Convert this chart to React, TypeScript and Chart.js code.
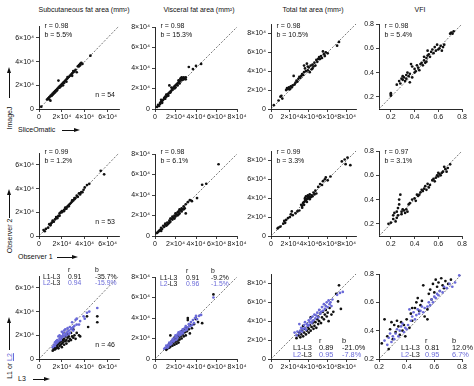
import React, { useEffect, useRef } from "react";
import { Chart, registerables } from "chart.js";
Chart.register(...registerables);

const FONT = '"Liberation Sans", Arial, Helvetica, sans-serif';
const BLUE = "#6a6ad8";
const INK = "#111";

// ---------- column titles ----------
const titles = ["Subcutaneous fat area (mm²)", "Visceral fat area (mm²)", "Total fat area (mm²)", "VFI"];

// ---------- tick labels (area axes in units of 10^4 mm²) ----------
const ticksSubcut = [0, 2, 4, 6];
const ticksVisc = [0, 2, 4, 6, 8];
const ticksTotal = [0, 2, 4, 6, 8];
const ticksVFI = [0.2, 0.4, 0.6, 0.8];

// ---------- Row 1: ImageJ (y) vs SliceOmatic (x) ----------
const subcut_IJ: [number, number][] = [
  [0.2, 0.2], [0.7, 0.8], [0.8, 0.9], [0.9, 0.8], [1.0, 0.7], [1.0, 1.1], [1.1, 1.1], [1.2, 1.3], [1.2, 1.2], [1.3, 1.4],
  [1.4, 1.5], [1.4, 1.4], [1.5, 1.6], [1.5, 1.5], [1.6, 1.7], [1.7, 1.8], [1.7, 2.4], [1.8, 1.9], [1.9, 2.0], [1.9, 1.9],
  [2.0, 2.1], [2.0, 2.0], [2.1, 2.2], [2.2, 2.2], [2.3, 2.4], [2.4, 2.5], [2.5, 2.6], [2.5, 2.7], [2.6, 2.7], [2.7, 2.8],
  [2.8, 2.9], [2.9, 3.0], [3.0, 3.1], [3.0, 3.2], [3.1, 3.2], [3.2, 3.3], [3.3, 3.1], [3.4, 3.6], [3.5, 3.7], [3.5, 3.6],
  [3.6, 3.8], [3.7, 3.9], [3.8, 3.8], [1.6, 1.6], [2.4, 2.3], [1.3, 1.3], [1.1, 1.2], [2.9, 2.8], [3.6, 3.7], [4.5, 4.5],
  [1.8, 1.8], [2.1, 2.0], [0.9, 1.0], [2.2, 2.3],
];
const visc_IJ: [number, number][] = [
  [0.2, 0.2], [0.3, 0.4], [0.4, 0.3], [0.5, 0.6], [0.5, 0.5], [0.6, 0.7], [0.7, 0.8], [0.7, 0.6], [0.8, 0.9], [0.9, 1.0],
  [0.9, 1.1], [1.0, 1.2], [1.0, 1.0], [1.1, 1.2], [1.2, 1.3], [1.2, 1.4], [1.3, 1.5], [1.3, 1.3], [1.4, 1.6], [1.4, 2.3],
  [1.5, 1.7], [1.5, 1.6], [1.6, 1.8], [1.7, 2.0], [1.7, 1.9], [1.8, 2.1], [1.9, 2.0], [1.9, 2.2], [2.0, 2.3], [2.0, 2.1],
  [2.1, 2.4], [2.2, 2.3], [2.2, 2.5], [2.3, 2.6], [2.3, 2.8], [2.4, 2.7], [2.5, 2.9], [2.5, 3.0], [2.6, 2.8], [2.6, 3.1],
  [2.7, 3.0], [2.8, 2.9], [2.8, 3.1], [2.9, 3.0], [3.0, 3.1], [3.0, 2.9], [1.1, 1.4], [0.6, 0.9], [1.6, 2.1], [3.3, 4.1],
  [3.7, 3.9], [4.0, 4.2], [4.5, 4.4], [2.4, 2.5],
];
const total_IJ: [number, number][] = [
  [0.3, 0.4], [0.8, 0.9], [1.0, 1.3], [1.1, 1.4], [1.2, 1.1], [1.6, 2.0], [1.7, 2.2], [1.8, 2.1], [1.9, 2.3], [2.0, 2.1],
  [2.1, 2.4], [2.2, 2.3], [2.3, 2.5], [2.4, 3.5], [2.5, 2.6], [2.6, 2.8], [2.7, 3.0], [2.8, 2.9], [2.9, 3.2], [3.0, 3.4],
  [3.1, 3.3], [3.2, 3.5], [3.3, 3.7], [3.4, 3.6], [3.5, 3.9], [3.5, 4.6], [3.6, 4.3], [3.7, 4.0], [3.8, 4.8], [3.9, 4.1],
  [4.0, 4.4], [4.1, 3.9], [4.2, 4.6], [4.3, 4.2], [4.4, 4.7], [4.5, 4.5], [4.6, 4.9], [4.7, 4.6], [4.8, 5.2], [4.9, 5.0],
  [5.0, 5.3], [5.1, 5.5], [5.2, 5.3], [5.3, 5.6], [5.4, 5.4], [5.5, 6.1], [5.6, 5.8], [5.7, 5.6], [5.8, 6.0], [6.0, 5.9],
  [4.4, 4.3], [3.9, 4.5], [7.0, 6.7], [7.2, 7.1],
];
const vfi_IJ: [number, number][] = [
  [0.20, 0.21], [0.20, 0.23], [0.20, 0.22], [0.25, 0.30], [0.27, 0.33], [0.28, 0.31], [0.29, 0.35], [0.30, 0.34], [0.30, 0.37], [0.31, 0.36],
  [0.32, 0.33], [0.33, 0.38], [0.33, 0.35], [0.34, 0.40], [0.35, 0.37], [0.36, 0.32], [0.36, 0.39], [0.37, 0.47], [0.38, 0.45], [0.38, 0.36],
  [0.40, 0.43], [0.41, 0.41], [0.42, 0.46], [0.43, 0.44], [0.44, 0.42], [0.45, 0.47], [0.46, 0.48], [0.47, 0.46], [0.48, 0.50], [0.49, 0.48],
  [0.50, 0.52], [0.50, 0.49], [0.51, 0.58], [0.51, 0.54], [0.52, 0.55], [0.53, 0.53], [0.54, 0.57], [0.55, 0.59], [0.56, 0.56], [0.57, 0.61],
  [0.58, 0.58], [0.59, 0.63], [0.60, 0.59], [0.61, 0.60], [0.62, 0.62], [0.63, 0.58], [0.64, 0.61], [0.65, 0.63], [0.70, 0.72], [0.71, 0.73],
  [0.72, 0.72], [0.73, 0.74], [0.48, 0.53], [0.40, 0.40],
];

// ---------- Row 2: Observer 2 (y) vs Observer 1 (x) ----------
const subcut_Obs: [number, number][] = [
  [0.4, 0.5], [0.6, 0.6], [0.8, 0.7], [0.9, 1.0], [1.0, 0.9], [1.1, 1.1], [1.2, 1.2], [1.3, 1.2], [1.4, 1.4], [1.5, 1.5],
  [1.5, 1.6], [1.6, 1.6], [1.7, 1.7], [1.8, 1.7], [1.9, 2.0], [2.0, 2.0], [2.1, 2.1], [2.2, 2.2], [2.3, 2.3], [2.3, 2.4],
  [2.4, 2.4], [2.5, 2.5], [2.6, 2.6], [2.7, 2.7], [2.8, 2.8], [2.9, 3.0], [3.0, 3.0], [3.1, 3.1], [3.2, 3.2], [3.3, 3.4],
  [3.4, 3.3], [3.5, 3.6], [3.6, 3.6], [3.7, 3.7], [3.8, 3.7], [3.9, 3.9], [4.0, 4.1], [4.2, 4.3], [4.4, 4.4], [1.2, 1.3],
  [1.6, 1.5], [2.0, 2.1], [2.4, 2.3], [2.9, 2.9], [3.1, 3.2], [1.0, 1.0], [1.8, 1.9], [2.6, 2.5], [0.5, 0.4], [3.6, 3.5],
  [2.2, 2.1], [5.4, 5.5], [5.7, 5.2],
];
const visc_Obs: [number, number][] = [
  [0.2, 0.3], [0.3, 0.4], [0.4, 0.5], [0.5, 0.6], [0.6, 0.8], [0.7, 0.7], [0.8, 1.0], [0.9, 0.9], [1.0, 1.1], [1.0, 1.2],
  [1.1, 1.0], [1.2, 1.3], [1.3, 1.2], [1.4, 1.5], [1.5, 1.4], [1.6, 1.7], [1.7, 1.6], [1.7, 1.9], [1.8, 1.8], [1.9, 2.0],
  [2.0, 1.9], [2.0, 2.2], [2.1, 2.1], [2.2, 2.3], [2.2, 2.0], [2.3, 2.4], [2.4, 2.2], [2.4, 2.6], [2.5, 2.5], [2.6, 2.4],
  [2.6, 2.7], [2.7, 2.6], [2.8, 2.9], [2.9, 2.7], [3.0, 2.2], [3.0, 3.1], [3.2, 3.3], [3.4, 3.5], [3.6, 3.4], [4.1, 3.7],
  [4.6, 5.0], [5.0, 5.1], [6.2, 7.0], [1.2, 1.1], [1.5, 1.7], [1.9, 1.7], [2.3, 2.1], [0.6, 0.5], [2.8, 2.6], [1.4, 1.3],
];
const total_Obs: [number, number][] = [
  [0.7, 0.8], [0.8, 0.9], [1.0, 1.0], [1.3, 1.3], [1.4, 1.6], [1.5, 1.4], [1.8, 1.9], [2.0, 2.0], [2.1, 2.3], [2.3, 2.2],
  [2.6, 2.4], [2.8, 2.6], [3.0, 2.7], [3.2, 3.3], [3.3, 3.2], [3.4, 3.5], [3.5, 3.6], [3.5, 3.3], [3.6, 3.8], [3.6, 4.0],
  [3.7, 3.7], [3.7, 4.2], [3.8, 3.9], [3.8, 3.6], [3.9, 4.1], [3.9, 4.3], [4.0, 4.0], [4.0, 4.2], [4.1, 3.9], [4.1, 4.4],
  [4.2, 4.1], [4.3, 4.3], [4.4, 4.2], [4.5, 4.6], [4.6, 4.4], [4.7, 4.8], [4.8, 4.5], [5.0, 5.2], [5.2, 5.5], [5.4, 5.4],
  [5.5, 5.8], [5.7, 6.0], [5.8, 6.2], [6.0, 5.9], [6.3, 6.3], [7.5, 7.9], [7.8, 8.1], [8.1, 8.3], [7.9, 7.6], [8.4, 7.5],
  [2.2, 2.6], [1.6, 1.7], [3.3, 3.0],
];
const vfi_Obs: [number, number][] = [
  [0.18, 0.20], [0.20, 0.21], [0.22, 0.24], [0.22, 0.27], [0.23, 0.29], [0.24, 0.22], [0.25, 0.25], [0.25, 0.30], [0.26, 0.27], [0.26, 0.33],
  [0.27, 0.36], [0.27, 0.40], [0.28, 0.44], [0.29, 0.30], [0.30, 0.32], [0.31, 0.31], [0.32, 0.29], [0.33, 0.32], [0.34, 0.30], [0.36, 0.37],
  [0.38, 0.40], [0.40, 0.41], [0.41, 0.39], [0.42, 0.44], [0.43, 0.43], [0.45, 0.46], [0.46, 0.48], [0.47, 0.47], [0.48, 0.49], [0.49, 0.51],
  [0.50, 0.48], [0.51, 0.53], [0.52, 0.50], [0.53, 0.52], [0.55, 0.56], [0.57, 0.55], [0.58, 0.58], [0.59, 0.60], [0.60, 0.59], [0.61, 0.61],
  [0.62, 0.60], [0.63, 0.62], [0.64, 0.63], [0.65, 0.67], [0.66, 0.65], [0.67, 0.63], [0.68, 0.66], [0.70, 0.69], [0.44, 0.44], [0.35, 0.36],
  [0.56, 0.57], [0.29, 0.28], [0.60, 0.62],
];

// ---------- Row 3: L1 (black) or L2 (blue) vs L3 ----------
const subcut_L1: [number, number][] = [
  [1.2, 0.7], [1.3, 0.8], [1.3, 0.9], [1.4, 1.0], [1.4, 0.8], [1.5, 1.1], [1.5, 0.9], [1.6, 1.2], [1.6, 1.0], [1.7, 1.3],
  [1.7, 0.9], [1.8, 1.1], [1.8, 1.4], [1.9, 1.2], [1.9, 1.5], [2.0, 1.3], [2.0, 1.0], [2.1, 1.6], [2.1, 1.4], [2.2, 1.2],
  [2.2, 1.7], [2.3, 1.5], [2.3, 1.9], [2.4, 1.3], [2.4, 1.6], [2.5, 1.8], [2.5, 2.1], [2.6, 1.5], [2.6, 1.9], [2.7, 1.7],
  [2.8, 2.2], [2.8, 1.6], [2.9, 1.9], [3.0, 2.5], [3.0, 1.8], [3.1, 2.0], [3.2, 1.7], [3.3, 2.2], [3.5, 2.0], [3.6, 1.9],
  [2.0, 1.8], [1.6, 1.4], [4.3, 2.7], [4.2, 3.6], [5.1, 3.6], [5.1, 3.1],
];
const subcut_L2: [number, number][] = [
  [1.2, 1.0], [1.3, 1.2], [1.4, 1.4], [1.4, 1.1], [1.5, 1.5], [1.5, 1.3], [1.6, 1.6], [1.6, 1.4], [1.7, 1.9], [1.7, 1.5],
  [1.8, 1.7], [1.8, 2.0], [1.9, 1.6], [1.9, 1.9], [2.0, 2.3], [2.0, 1.8], [2.1, 2.0], [2.1, 2.2], [2.2, 1.9], [2.2, 2.4],
  [2.3, 2.1], [2.3, 2.5], [2.4, 2.2], [2.4, 2.0], [2.5, 2.6], [2.5, 2.3], [2.6, 2.1], [2.6, 2.4], [2.7, 2.7], [2.7, 2.2],
  [2.8, 2.5], [2.9, 3.1], [2.9, 2.6], [3.0, 2.7], [3.0, 2.4], [3.1, 2.8], [3.2, 3.3], [3.3, 2.9], [3.3, 3.4], [3.5, 2.9],
  [3.6, 3.2], [3.9, 3.6], [4.0, 3.4], [4.4, 4.0], [4.2, 3.9], [5.1, 4.3],
];
const visc_L1: [number, number][] = [
  [1.0, 1.0], [1.1, 0.9], [1.2, 1.2], [1.2, 1.0], [1.3, 1.3], [1.4, 1.1], [1.4, 1.5], [1.5, 1.2], [1.5, 2.3], [1.6, 1.4],
  [1.6, 1.7], [1.7, 1.3], [1.8, 1.6], [1.8, 1.9], [1.9, 1.4], [2.0, 1.7], [2.0, 2.0], [2.1, 1.5], [2.2, 1.8], [2.2, 2.2],
  [2.3, 2.1], [2.3, 1.6], [2.4, 2.4], [2.4, 1.9], [2.5, 2.2], [2.6, 2.7], [2.6, 2.0], [2.7, 2.4], [2.8, 2.9], [2.8, 2.2],
  [2.9, 2.6], [3.0, 3.0], [3.0, 2.3], [3.1, 2.7], [3.2, 4.0], [3.2, 3.8], [3.3, 2.9], [3.4, 2.5], [3.5, 3.3], [3.6, 3.0],
  [3.8, 3.4], [4.0, 3.9], [4.2, 3.6], [4.6, 3.5], [1.9, 2.1], [5.7, 6.3],
];
const visc_L2: [number, number][] = [
  [0.9, 1.0], [1.0, 1.1], [1.1, 1.3], [1.2, 1.1], [1.3, 1.4], [1.3, 1.2], [1.4, 1.6], [1.5, 1.4], [1.6, 1.7], [1.6, 1.5],
  [1.7, 1.9], [1.8, 1.7], [1.8, 2.0], [1.9, 1.8], [2.0, 2.1], [2.0, 2.3], [2.1, 1.9], [2.2, 2.4], [2.2, 2.1], [2.3, 2.6],
  [2.4, 2.3], [2.4, 2.5], [2.5, 2.7], [2.5, 2.4], [2.6, 2.6], [2.7, 2.9], [2.7, 2.5], [2.8, 2.7], [2.9, 3.0], [3.0, 2.8],
  [3.0, 3.2], [3.1, 2.9], [3.2, 3.1], [3.3, 3.4], [3.4, 3.2], [3.5, 3.6], [3.6, 3.3], [3.7, 3.8], [3.8, 3.5], [3.9, 4.0],
  [4.0, 4.2], [4.1, 3.9], [4.3, 4.2], [4.5, 4.3], [5.7, 6.0], [2.1, 2.2],
];
const total_L1: [number, number][] = [
  [2.7, 2.2], [2.9, 2.5], [3.0, 2.8], [3.1, 2.3], [3.2, 2.6], [3.3, 3.0], [3.4, 2.4], [3.5, 2.8], [3.6, 3.2], [3.7, 2.6],
  [3.8, 3.0], [3.9, 3.4], [4.0, 2.8], [4.0, 3.2], [4.1, 3.6], [4.2, 3.0], [4.3, 3.4], [4.4, 3.8], [4.5, 3.2], [4.5, 4.0],
  [4.6, 3.5], [4.7, 3.9], [4.8, 3.3], [4.9, 4.2], [5.0, 3.7], [5.0, 4.5], [5.1, 4.0], [5.2, 4.8], [5.3, 3.8], [5.4, 4.4],
  [5.5, 5.0], [5.6, 4.2], [5.7, 4.7], [5.8, 5.2], [5.9, 4.5], [6.0, 4.9], [6.1, 4.0], [6.2, 5.4], [6.4, 4.7], [6.6, 5.0],
  [4.2, 4.4], [3.4, 3.5], [7.2, 7.8], [6.9, 6.9], [7.1, 6.1], [7.4, 5.3],
];
const total_L2: [number, number][] = [
  [2.5, 2.8], [2.7, 2.5], [2.8, 2.9], [3.0, 3.7], [3.0, 2.7], [3.1, 3.0], [3.2, 3.3], [3.3, 2.9], [3.4, 3.2], [3.5, 3.6],
  [3.6, 3.3], [3.7, 3.1], [3.8, 3.7], [3.9, 3.5], [4.0, 4.1], [4.0, 3.6], [4.1, 3.9], [4.2, 4.3], [4.3, 3.8], [4.4, 4.5],
  [4.5, 4.1], [4.6, 4.7], [4.7, 4.3], [4.8, 4.6], [4.9, 4.9], [5.0, 4.4], [5.1, 5.2], [5.2, 4.8], [5.3, 5.0], [5.4, 5.5],
  [5.5, 5.1], [5.6, 5.8], [5.7, 5.3], [5.8, 5.6], [5.9, 6.0], [6.0, 5.5], [6.1, 6.2], [6.2, 5.8], [6.3, 6.0], [6.4, 5.6],
  [6.5, 6.3], [4.4, 4.0], [3.6, 3.9], [7.3, 7.0], [7.6, 7.1], [7.0, 6.8],
];
const vfi_L1: [number, number][] = [
  [0.22, 0.31], [0.24, 0.48], [0.26, 0.36], [0.27, 0.27], [0.28, 0.41], [0.29, 0.46], [0.30, 0.34], [0.31, 0.44], [0.32, 0.39], [0.33, 0.47],
  [0.34, 0.43], [0.35, 0.37], [0.36, 0.46], [0.37, 0.40], [0.38, 0.44], [0.39, 0.36], [0.40, 0.48], [0.42, 0.42], [0.43, 0.52], [0.44, 0.47],
  [0.46, 0.56], [0.47, 0.60], [0.48, 0.63], [0.49, 0.54], [0.50, 0.58], [0.51, 0.61], [0.52, 0.72], [0.53, 0.50], [0.55, 0.55], [0.56, 0.66],
  [0.57, 0.69], [0.58, 0.62], [0.59, 0.73], [0.60, 0.67], [0.61, 0.76], [0.62, 0.71], [0.63, 0.74], [0.64, 0.68], [0.65, 0.77], [0.66, 0.72],
  [0.67, 0.70], [0.68, 0.75], [0.70, 0.73], [0.72, 0.76], [0.55, 0.48], [0.44, 0.56],
];
const vfi_L2: [number, number][] = [
  [0.24, 0.33], [0.26, 0.30], [0.27, 0.35], [0.28, 0.38], [0.29, 0.32], [0.30, 0.36], [0.31, 0.34], [0.32, 0.38], [0.33, 0.41], [0.34, 0.36],
  [0.35, 0.40], [0.36, 0.43], [0.37, 0.45], [0.38, 0.39], [0.39, 0.42], [0.40, 0.41], [0.41, 0.44], [0.42, 0.55], [0.43, 0.47], [0.44, 0.50],
  [0.45, 0.53], [0.46, 0.48], [0.47, 0.51], [0.48, 0.55], [0.49, 0.52], [0.50, 0.54], [0.51, 0.57], [0.52, 0.53], [0.53, 0.56], [0.55, 0.57],
  [0.56, 0.60], [0.57, 0.58], [0.58, 0.62], [0.59, 0.60], [0.60, 0.64], [0.61, 0.63], [0.62, 0.66], [0.63, 0.65], [0.64, 0.68], [0.66, 0.67],
  [0.67, 0.71], [0.69, 0.70], [0.71, 0.73], [0.73, 0.71], [0.75, 0.74], [0.78, 0.79],
];

// ---------- statistics text ----------
const statsIJ = [["0.98", "5.5%"], ["0.98", "15.3%"], ["0.98", "10.5%"], ["0.98", "5.4%"]];
const statsObs = [["0.99", "1.2%"], ["0.98", "6.1%"], ["0.99", "3.3%"], ["0.97", "3.1%"]];
const statsL1 = [["0.91", "-35.7%"], ["0.91", "-9.2%"], ["0.89", "-21.0%"], ["0.81", "12.0%"]];
const statsL2 = [["0.94", "-15.9%"], ["0.96", "-1.5%"], ["0.95", "-7.8%"], ["0.95", "6.7%"]];
const nValues = ["n = 54", "n = 53", "n = 46"];

// ---------- layout (chart areas in page px) ----------
const colLeft = [39, 155, 271, 379];
const colW = [80, 82, 85, 83];
const colH = [83, 82, 85, 85];
const rowBottom = [109, 236, 359];
const titleCenter = [84, 199, 313, 420];
const PAD_T = 14, PAD_R = 14, Y_W = 30, X_H = 16;

type Part = { t: string; color?: string };
type TextItem = { parts: Part[]; x: number; y: number; size: number; fromRight?: boolean; alignRight?: boolean };
type Series = { data: [number, number][]; color: string };
type PanelCfg = {
  key: string; row: number; col: number;
  min: number; max: number; ticks: number[]; fmt: (v: number) => string;
  series: Series[]; texts: TextItem[];
};

const fmtE4 = (v: number) => (v === 0 ? "0" : `${v}×10⁴`);
const fmtVFI = (v: number) => v.toFixed(1);

const colAxis = [
  { min: 0, max: 7, ticks: ticksSubcut, fmt: fmtE4 },
  { min: 0, max: 8, ticks: ticksVisc, fmt: fmtE4 },
  { min: 0, max: 9, ticks: ticksTotal, fmt: fmtE4 },
  { min: 0.1, max: 0.8, ticks: ticksVFI, fmt: fmtVFI },
];

const rowData: Series[][][] = [
  [[{ data: subcut_IJ, color: INK }], [{ data: visc_IJ, color: INK }], [{ data: total_IJ, color: INK }], [{ data: vfi_IJ, color: INK }]],
  [[{ data: subcut_Obs, color: INK }], [{ data: visc_Obs, color: INK }], [{ data: total_Obs, color: INK }], [{ data: vfi_Obs, color: INK }]],
  [
    [{ data: subcut_L1, color: INK }, { data: subcut_L2, color: BLUE }],
    [{ data: visc_L1, color: INK }, { data: visc_L2, color: BLUE }],
    [{ data: total_L1, color: INK }, { data: total_L2, color: BLUE }],
    [{ data: vfi_L1, color: INK }, { data: vfi_L2, color: BLUE }],
  ],
];

// table column offsets for row 3 [label, r, b] and row baselines [header, L1, L2]
const tableX = [[4, 29, 56], [5, 31, 56], [22, 48, 71], [22, 46, 73]];
const tableY = [[-87, -80, -74], [-86, -79, -73], [-16, -9, -2], [-16, -9, -2]];
const tableSize = [6.8, 6.8, 7.4, 7.4];

function buildTexts(row: number, col: number): TextItem[] {
  const out: TextItem[] = [];
  if (row < 2) {
    const st = row === 0 ? statsIJ[col] : statsObs[col];
    const yR = row === 0 ? -81 : -82;
    out.push({ parts: [{ t: `r = ${st[0]}` }], x: 5.5, y: yR, size: 7 });
    out.push({ parts: [{ t: `b = ${st[1]}` }], x: 5.5, y: yR + 8.5, size: 7 });
  } else {
    const [xl, xr, xb] = tableX[col];
    const [yh, y1, y2] = tableY[col];
    const s = tableSize[col];
    out.push({ parts: [{ t: "r" }], x: xr, y: yh, size: s });
    out.push({ parts: [{ t: "b" }], x: xb, y: yh, size: s });
    out.push({ parts: [{ t: "L1-L3" }], x: xl, y: y1, size: s });
    out.push({ parts: [{ t: statsL1[col][0] }], x: xr, y: y1, size: s });
    out.push({ parts: [{ t: statsL1[col][1] }], x: xb, y: y1, size: s });
    out.push({ parts: [{ t: "L2", color: BLUE }, { t: "-L3" }], x: xl, y: y2, size: s });
    out.push({ parts: [{ t: statsL2[col][0], color: BLUE }], x: xr, y: y2, size: s });
    out.push({ parts: [{ t: statsL2[col][1], color: BLUE }], x: xb, y: y2, size: s });
  }
  if (col === 0) {
    out.push({ parts: [{ t: nValues[row] }], x: -4, y: -12, size: 7, fromRight: true, alignRight: true });
  }
  return out;
}

const panels: PanelCfg[] = [];
for (let r = 0; r < 3; r++) {
  for (let c = 0; c < 4; c++) {
    const ax = colAxis[c];
    const min = r === 2 && c === 3 ? 0.2 : ax.min;
    panels.push({
      key: `p${r}${c}`, row: r, col: c, min, max: ax.max, ticks: ax.ticks, fmt: ax.fmt,
      series: rowData[r][c], texts: buildTexts(r, c),
    });
  }
}

function scaleOpts(min: number, max: number, ticks: number[], fmt: (v: number) => string, axis: "x" | "y") {
  return {
    type: "linear" as const,
    min, max,
    afterBuildTicks: (s: any) => { s.ticks = ticks.map((v) => ({ value: v })); },
    afterFit: (s: any) => { if (axis === "x") s.height = X_H; else s.width = Y_W; },
    ticks: {
      autoSkip: false, maxRotation: 0, minRotation: 0,
      padding: axis === "x" ? 1 : 2,
      color: INK,
      font: { family: FONT, size: 7 },
      callback: (v: any) => fmt(Number(v)),
    },
    grid: { display: true, drawOnChartArea: false, drawTicks: true, tickLength: 3, color: INK, lineWidth: 0.8 },
    border: { display: true, color: INK, width: 0.9 },
  };
}

function Panel({ p }: { p: PanelCfg }) {
  const ref = useRef<HTMLCanvasElement>(null);
  const L = colLeft[p.col], W = colW[p.col], H = colH[p.col], B = rowBottom[p.row];
  const cw = Y_W + W + PAD_R, ch = PAD_T + H + X_H;
  useEffect(() => {
    if (!ref.current) return;
    const textPlugin = {
      id: "panelText",
      afterDraw(chart: any) {
        const { ctx, chartArea: a } = chart;
        ctx.save();
        ctx.textBaseline = "alphabetic";
        ctx.textAlign = "left";
        for (const it of p.texts) {
          ctx.font = `${it.size}px ${FONT}`;
          let x = it.fromRight ? a.right + it.x : a.left + it.x;
          const y = a.bottom + it.y;
          if (it.alignRight) {
            const tw = it.parts.reduce((s, pt) => s + ctx.measureText(pt.t).width, 0);
            x -= tw;
          }
          for (const pt of it.parts) {
            ctx.fillStyle = pt.color || INK;
            ctx.fillText(pt.t, x, y);
            x += ctx.measureText(pt.t).width;
          }
        }
        ctx.restore();
      },
    };
    const datasets: any[] = [
      {
        type: "line",
        data: [{ x: p.min, y: p.min }, { x: p.max, y: p.max }],
        borderColor: "#555", borderWidth: 0.8, borderDash: [2, 1.6],
        pointRadius: 0, fill: false, order: 5,
      },
      ...p.series.map((s, i) => ({
        type: "scatter",
        data: s.data.map(([x, y]) => ({ x, y })),
        backgroundColor: s.color, borderColor: s.color, borderWidth: 0,
        pointRadius: 1.35, pointHoverRadius: 1.35, clip: false, order: 3 - i,
      })),
    ];
    const chart = new Chart(ref.current, {
      type: "scatter",
      data: { datasets },
      options: {
        responsive: false, animation: false, devicePixelRatio: 1,
        events: [],
        layout: { padding: { top: PAD_T, right: PAD_R, left: 0, bottom: 0 } },
        plugins: { legend: { display: false }, tooltip: { enabled: false }, title: { display: false } },
        scales: {
          x: scaleOpts(p.min, p.max, p.ticks, p.fmt, "x"),
          y: scaleOpts(p.min, p.max, p.ticks, p.fmt, "y"),
        },
      } as any,
      plugins: [textPlugin],
    });
    return () => chart.destroy();
  }, [p]);
  return (
    <canvas
      ref={ref}
      width={cw}
      height={ch}
      style={{ position: "absolute", left: L - Y_W, top: B - H - PAD_T, width: cw, height: ch }}
    />
  );
}

function VArrow({ x, y1, y2 }: { x: number; y1: number; y2: number }) {
  return (
    <>
      <div style={{ position: "absolute", left: x - 2.5, top: y1, width: 0, height: 0, borderLeft: "2.5px solid transparent", borderRight: "2.5px solid transparent", borderBottom: "6px solid #111" }} />
      <div style={{ position: "absolute", left: x - 0.5, top: y1 + 5, width: 1, height: y2 - y1 - 5, background: "#111" }} />
    </>
  );
}
function HArrow({ y, x1, x2 }: { y: number; x1: number; x2: number }) {
  return (
    <>
      <div style={{ position: "absolute", left: x1, top: y - 0.5, width: x2 - x1 - 5, height: 1, background: "#111" }} />
      <div style={{ position: "absolute", left: x2 - 6, top: y - 2.5, width: 0, height: 0, borderTop: "2.5px solid transparent", borderBottom: "2.5px solid transparent", borderLeft: "6px solid #111" }} />
    </>
  );
}
function VText({ x, y, children }: { x: number; y: number; children: React.ReactNode }) {
  return (
    <div style={{ position: "absolute", left: x, top: y, transform: "translate(-50%,-50%) rotate(-90deg)", whiteSpace: "nowrap", fontSize: 7, lineHeight: "8px" }}>
      {children}
    </div>
  );
}
function HText({ x, y, children }: { x: number; y: number; children: React.ReactNode }) {
  return (
    <div style={{ position: "absolute", left: x, top: y - 4, whiteSpace: "nowrap", fontSize: 7, lineHeight: "8px" }}>{children}</div>
  );
}

export default function App() {
  return (
    <div style={{ position: "fixed", left: 0, top: 0, width: 474, height: 386, background: "#fff", fontFamily: FONT, color: INK, overflow: "hidden" }}>
      {titles.map((t, i) => (
        <div key={t} style={{ position: "absolute", left: titleCenter[i], top: 4.5, transform: "translateX(-50%)", whiteSpace: "nowrap", fontSize: 7, lineHeight: "9px" }}>{t}</div>
      ))}
      <VText x={10} y={118}>ImageJ</VText>
      <VArrow x={9} y1={67} y2={98} />
      <HText x={18} y={130}>SliceOmatic</HText>
      <HArrow y={130} x1={62} x2={80} />

      <VText x={10} y={236}>Observer 2</VText>
      <VArrow x={9} y1={189} y2={218} />
      <HText x={18} y={257}>Observer 1</HText>
      <HArrow y={257} x1={57} x2={78} />

      <VText x={10} y={366}>L1 or <span style={{ color: BLUE, textDecoration: "underline" }}>L2</span></VText>
      <VArrow x={9} y1={317} y2={350} />
      <HText x={18} y={379}>L3</HText>
      <HArrow y={379} x1={33} x2={50} />

      {panels.map((p) => <Panel key={p.key} p={p} />)}
    </div>
  );
}
